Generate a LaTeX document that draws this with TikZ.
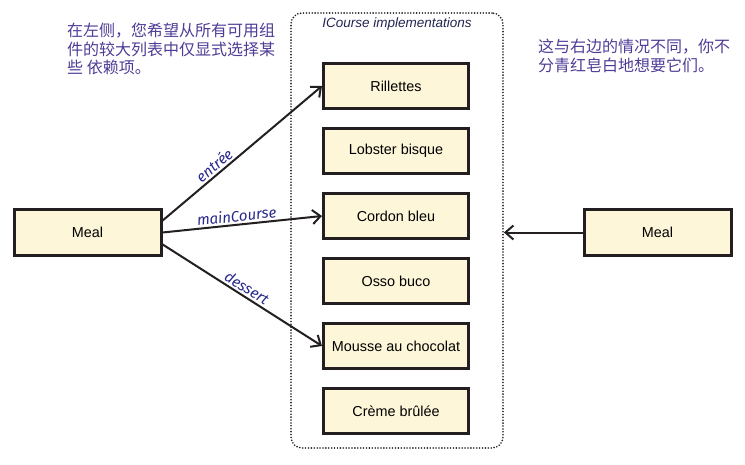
\documentclass[tikz,border=0pt]{standalone}
\usepackage{fontspec}
\setmainfont{Liberation Sans}
\newfontfamily\cjk{Noto Sans CJK SC}
\newfontfamily\lblfont{Fira Sans}
\usetikzlibrary{arrows.meta}
\definecolor{boxfill}{RGB}{253,246,216}
\definecolor{boxline}{RGB}{35,31,32}
\definecolor{notecol}{RGB}{80,60,150}
\definecolor{lblcol}{RGB}{40,40,140}
\definecolor{titlecol}{RGB}{35,35,80}
\tikzset{
  dish/.style={draw=boxline, line width=3pt, fill=boxfill, minimum width=145pt, minimum height=45pt, inner sep=0pt, font=\fontsize{14.4}{16}\selectfont},
  mealbox/.style={dish, minimum width=147pt, minimum height=46pt},
  container/.style={draw=boxline, line width=1.8pt, dash pattern=on 0pt off 2.9pt, line cap=round, rounded corners=11pt, inner sep=0pt},
  conn/.style={draw=boxline, line width=2pt, -{Straight Barb[length=8pt,width=14pt,line width=2pt]}},
  role/.style={text=lblcol, font=\lblfont\itshape\fontsize{15}{17}\selectfont, sloped, above, inner sep=2pt},
  note/.style={text=notecol, font=\cjk\fontsize{16}{18.5}\selectfont, align=left, inner sep=0pt, anchor=north west}
}
\begin{document}
\begin{tikzpicture}[x=1pt,y=-1pt]
\useasboundingbox (0,0) rectangle (745,464);
\node[container, minimum width=212pt, minimum height=435pt] (cont) at (397,230.5) {};
\node[font=\itshape\fontsize{13.5}{15}\selectfont, text=titlecol] (title) at (397,24) {ICourse implementations};
\node[dish] (ril) at (396,86) {Rillettes};
\node[dish] (lob) at (396,151) {Lobster bisque};
\node[dish] (cor) at (396,216) {Cordon bleu};
\node[dish] (oss) at (396,281) {Osso buco};
\node[dish] (mou) at (396,346) {Mousse au chocolat};
\node[dish] (cre) at (396,411) {Crème brûlée};
\node[mealbox] (lmeal) at (87.5,232.5) {Meal};
\node[mealbox] (rmeal) at (657.5,232.5) {Meal};
\coordinate (rend) at (rmeal.west -| cont.east);
\draw[conn] (lmeal.9) -- node[role, pos=0.36] {entrée} (ril.west);
\draw[conn] (lmeal.east) -- node[role, pos=0.47] {mainCourse} (cor.west);
\draw[conn] (lmeal.-9) -- node[role, pos=0.5] {dessert} (mou.west);
\draw[conn] (rmeal.west) -- (rend);
\node[note] (lnote) at (67,23) {在左侧，您希望从所有可用组\\件的较大列表中仅显式选择某\\些 依赖项。};
\node[note] (rnote) at (538,39) {这与右边的情况不同，你不\\分青红皂白地想要它们。};
\end{tikzpicture}
\end{document}
